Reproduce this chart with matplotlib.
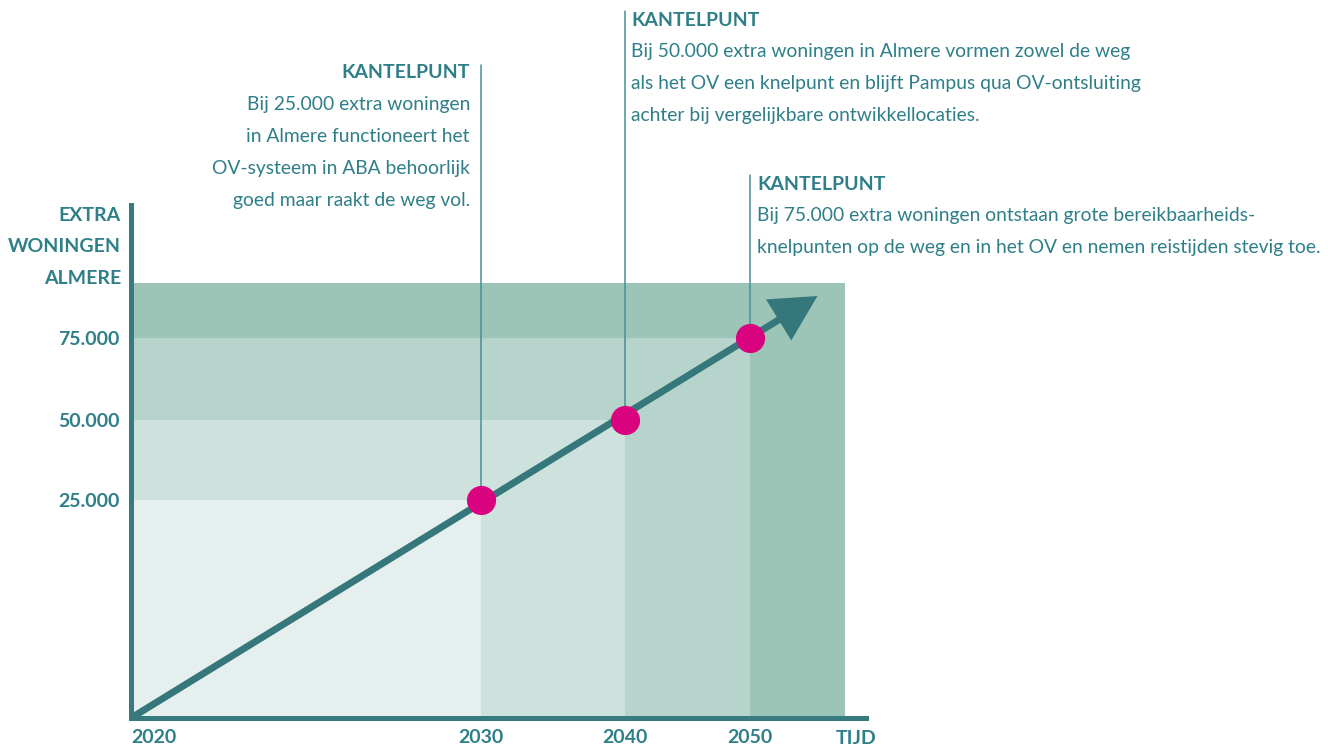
import numpy as np
import matplotlib
matplotlib.use("Agg")
import matplotlib.pyplot as plt
from matplotlib.patches import Rectangle

# ---------------- data ----------------
years = [2020, 2030, 2040, 2050]
thresholds = [25000, 50000, 75000]          # kantelpunten (extra woningen)
ytick_labels = ["25.000", "50.000", "75.000"]
xtick_labels = ["2020", "2030", "2040", "2050"]
arrow_end = (2055.4, 87800)                 # end of the growth arrow
shade_end = (2057.6, 91800)                 # outer extent of shaded area
header = "KANTELPUNT"
notes = [
    "Bij 25.000 extra woningen\nin Almere functioneert het\nOV-systeem in ABA behoorlijk\ngoed maar raakt de weg vol.",
    "Bij 50.000 extra woningen in Almere vormen zowel de weg\nals het OV een knelpunt en blijft Pampus qua OV-ontsluiting\nachter bij vergelijkbare ontwikkellocaties.",
    "Bij 75.000 extra woningen ontstaan grote bereikbaarheids-\nknelpunten op de weg en in het OV en nemen reistijden stevig toe.",
]
ylabel = "EXTRA\nWONINGEN\nALMERE"
xlabel = "TIJD"

# ---------------- schematic (non-linear) scales ----------------
x_anchor_val = [2020, 2030, 2040, 2050, 2070]
x_anchor_pos = [0, 350, 494, 619, 869]
y_anchor_val = [0, 25000, 50000, 75000, 200000]
y_anchor_pos = [0, 218, 298, 380, 790]

def fx(v):
    return np.interp(v, x_anchor_val, x_anchor_pos)
def ix(p):
    return np.interp(p, x_anchor_pos, x_anchor_val)
def fy(v):
    return np.interp(v, y_anchor_val, y_anchor_pos)
def iy(p):
    return np.interp(p, y_anchor_pos, y_anchor_val)

# ---------------- style ----------------
TEXT = "#2e7f88"
LEAD = "#4a8f95"
AXIS = "#377a80"
ARROW = "#36777c"
DOT = "#d9037f"
FILLS = ["#9cc5b8", "#b6d4cb", "#cde2dc", "#e5efed"]
FONT = "Lato"
FS_BODY = 13.9
FS_BOLD = 14.0

W, H = 1328, 745
fig = plt.figure(figsize=(W / 100, H / 100), dpi=100)
ax = fig.add_axes([131 / W, (H - 718) / H, (866 - 131) / W, (718 - 205) / H])
ax.set_xscale("function", functions=(fx, ix))
ax.set_yscale("function", functions=(fy, iy))
ax.set_xlim(2020, ix(735))
ax.set_ylim(0, iy(513))
ax.set_facecolor("none")

# nested shaded regions
ax.add_patch(Rectangle((years[0], 0), shade_end[0] - years[0], shade_end[1],
                       color=FILLS[0], lw=0, zorder=1))
for i, (yr, th) in enumerate(zip(years[1:][::-1], thresholds[::-1])):
    ax.add_patch(Rectangle((years[0], 0), yr - years[0], th,
                           color=FILLS[i + 1], lw=0, zorder=1 + i + 1))

# growth arrow
ax.annotate("", xy=arrow_end, xytext=(years[0], 0),
            arrowprops=dict(arrowstyle="-|>,head_length=1.25,head_width=0.66",
                            mutation_scale=20, lw=5, color=ARROW,
                            shrinkA=0, shrinkB=0, joinstyle="miter",
                            capstyle="butt"),
            zorder=6)

# leader lines + kantelpunt dots
top_px = [65, 11, 175]
for yr, th, tp in zip(years[1:], thresholds, top_px):
    ax.annotate("", xy=(yr, th), xycoords="data",
                xytext=(yr, H - tp), textcoords=("data", "figure pixels"),
                arrowprops=dict(arrowstyle="-", color=LEAD, lw=1.1,
                                shrinkA=0, shrinkB=0),
                zorder=5, annotation_clip=False)
ax.plot(years[1:], thresholds, "o", ms=21, color=DOT, mec="none", zorder=8,
        clip_on=False)

# annotation texts
def note(x_data, head_y, body_y, ha, dx, body):
    ax.annotate(header, xy=(x_data, H - head_y), xycoords=("data", "figure pixels"),
                xytext=(dx, 0), textcoords="offset pixels", ha=ha, va="center",
                fontsize=FS_BOLD, fontweight="bold", color=TEXT, family=FONT,
                annotation_clip=False)
    ax.annotate(body, xy=(x_data, H - body_y), xycoords=("data", "figure pixels"),
                xytext=(dx, 0), textcoords="offset pixels", ha=ha, va="top",
                fontsize=FS_BODY, color=TEXT, family=FONT, linespacing=2.06,
                multialignment=ha, annotation_clip=False)

note(years[1], 73, 96, "right", -11, notes[0])
note(years[2], 20, 43, "left", 6, notes[1])
note(years[3], 184, 207, "left", 7, notes[2])

# spines
for s in ["top", "right"]:
    ax.spines[s].set_visible(False)
for s in ["left", "bottom"]:
    ax.spines[s].set_color(AXIS)
    ax.spines[s].set_linewidth(3.6)
    ax.spines[s].set_capstyle("projecting")
    ax.spines[s].set_zorder(9)

# ticks
ax.set_xticks(years)
ax.set_xticklabels(xtick_labels)
ax.set_yticks(thresholds)
ax.set_yticklabels(ytick_labels)
ax.tick_params(length=0, labelsize=FS_BOLD, labelcolor=TEXT)
ax.tick_params(axis="x", pad=8)
ax.tick_params(axis="y", pad=8)
for lbl in ax.get_xticklabels() + ax.get_yticklabels():
    lbl.set_fontweight("bold")
    lbl.set_family(FONT)
ax.get_xticklabels()[0].set_ha("left")

fig.text(121 / W, 1 - 247 / H, ylabel, ha="right", va="center", fontsize=FS_BOLD,
         fontweight="bold", color=TEXT, family=FONT, linespacing=2.05)
fig.text(856 / W, 1 - 738 / H, xlabel, ha="center", va="center", fontsize=FS_BOLD,
         fontweight="bold", color=TEXT, family=FONT)

fig.savefig("out.png", dpi=100)
